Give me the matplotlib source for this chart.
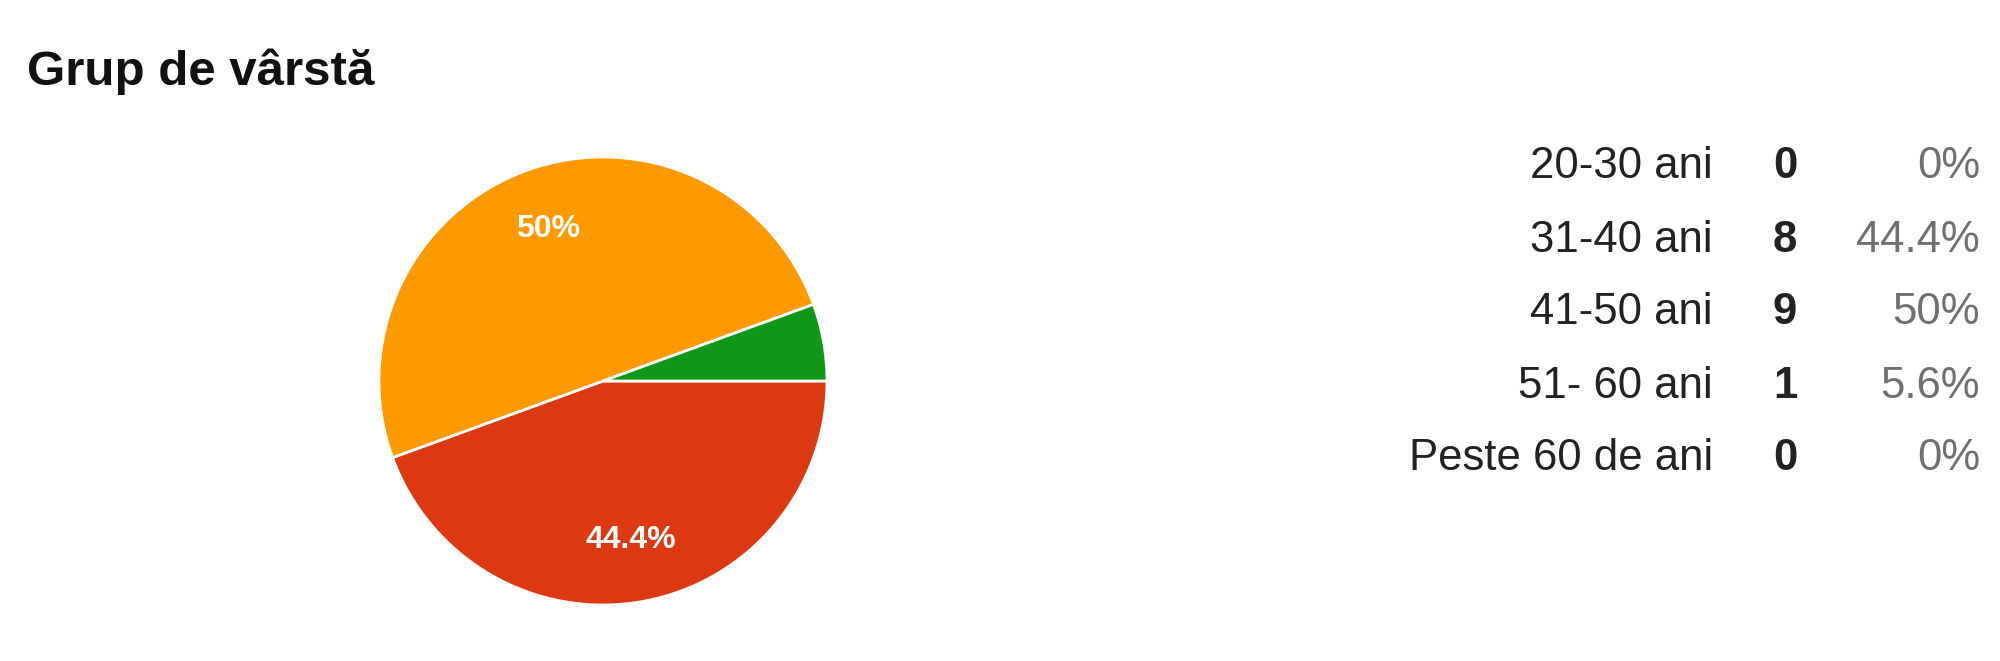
import matplotlib.pyplot as plt

# date
categorii = ['20-30 ani', '31-40 ani', '41-50 ani', '51- 60 ani', 'Peste 60 de ani']
raspunsuri = [0, 8, 9, 1, 0]
procente = ['0%', '44.4%', '50%', '5.6%', '0%']
culori = ['#3366CC', '#DC3912', '#FF9900', '#109618', '#990099']

plt.rcParams['font.family'] = ['Liberation Sans', 'DejaVu Sans']

W, H = 2000, 661
fig = plt.figure(figsize=(W / 100, H / 100), dpi=100)
fig.patch.set_facecolor('white')

fig.text(27 / W, 1 - 85 / H, 'Grup de vârstă', fontsize=35.5, fontweight='bold',
         color='#111111', ha='left', va='baseline')

# --------------------------------------------------------------------------------------------------------------------
# pie (doar categoriile cu raspunsuri)
cx, cy, r = 603, 381, 224
ax = fig.add_axes([(cx - r) / W, (H - cy - r) / H, 2 * r / W, 2 * r / H])
idx = [i for i, v in enumerate(raspunsuri) if v > 0]
vals = [raspunsuri[i] for i in idx]
cols = [culori[i] for i in idx]
labs = [procente[i] if raspunsuri[i] >= 5 else '' for i in idx]

wedges, texts = ax.pie(vals, colors=cols, startangle=0, counterclock=False,
                       labels=labs, labeldistance=0.72,
                       wedgeprops=dict(edgecolor='white', linewidth=2))
for t in texts:
    t.set_color('white')
    t.set_fontsize(23)
    t.set_fontweight('bold')
    t.set_ha('center')
    t.set_va('center')
ax.set_xlim(-1, 1)
ax.set_ylim(-1, 1)
ax.set_aspect('equal')
ax.axis('off')

# --------------------------------------------------------------------------------------------------------------------
# tabel cu valori
y0, pas = 167, 73
for i, (c, n, p) in enumerate(zip(categorii, raspunsuri, procente)):
    y = 1 - (y0 + i * pas) / H
    fig.text(1713 / W, y, c, fontsize=31.5, color='#222222', ha='right', va='center')
    fig.text(1785 / W, y, str(n), fontsize=31.5, fontweight='bold', color='#222222',
             ha='center', va='center')
    fig.text(1980 / W, y, p, fontsize=31.5, color='#707070', ha='right', va='center')

plt.savefig('out.png', dpi=100, facecolor='white')
